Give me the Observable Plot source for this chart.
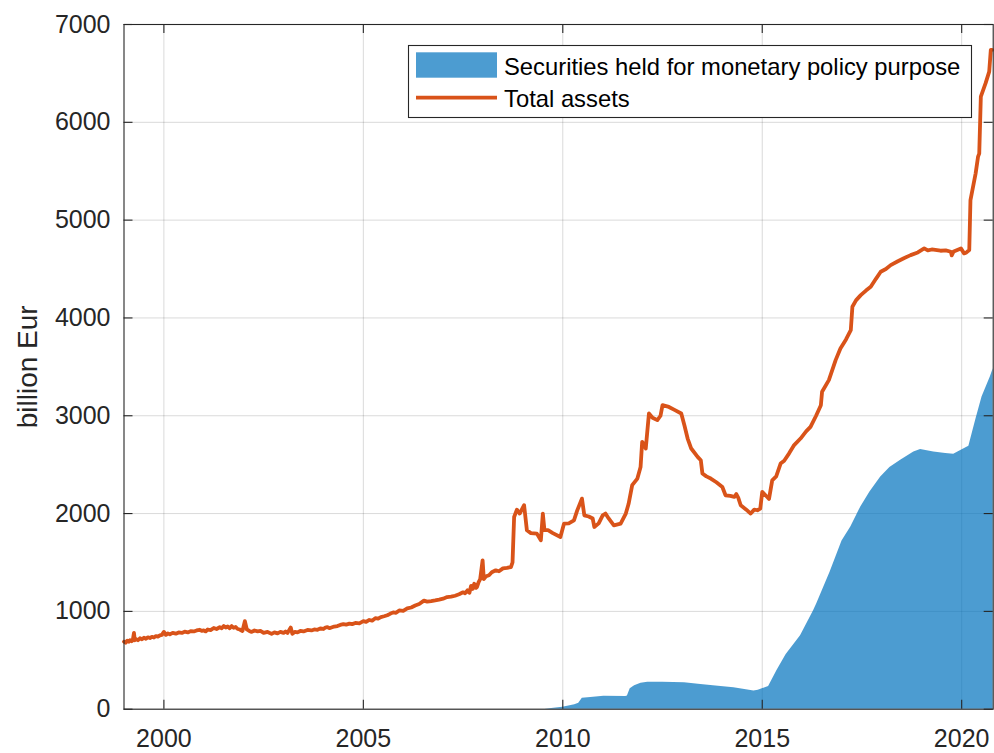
<!DOCTYPE html>
<html>
<head>
<meta charset="utf-8">
<script src="https://cdn.jsdelivr.net/npm/d3@7"></script>
<script src="https://cdn.jsdelivr.net/npm/@observablehq/plot@0.6"></script>
<style>
  html, body { margin: 0; padding: 0; background: #fff; }
  #chart svg { display: block; }
</style>
</head>
<body>
<div id="chart"></div>
<script>
// ---- Data ----
const totalDates = [
  1999.00,1999.04,1999.08,1999.12,1999.15,1999.19,1999.22,1999.25,1999.27,1999.31,1999.35,1999.40,1999.45,
  1999.50,1999.55,1999.60,1999.65,1999.70,1999.75,1999.80,1999.85,1999.90,1999.95,
  2000.00,2000.05,2000.10,2000.15,2000.22,2000.30,2000.37,2000.45,2000.52,2000.60,2000.67,2000.75,2000.82,
  2000.90,2000.95,2001.00,2001.05,2001.10,2001.17,2001.25,2001.32,2001.40,2001.45,2001.50,2001.55,
  2001.60,2001.65,2001.70,2001.75,2001.80,2001.85,2001.90,2001.97,2002.03,2002.08,2002.14,2002.20,2002.27,
  2002.35,2002.42,2002.50,2002.60,2002.70,2002.77,2002.85,2002.92,2003.00,
  2003.05,2003.10,2003.18,2003.22,2003.28,2003.35,2003.42,2003.50,2003.60,2003.70,2003.77,2003.85,2003.92,
  2004.00,2004.05,2004.10,2004.15,2004.20,2004.27,2004.35,2004.42,2004.50,2004.57,2004.65,2004.72,
  2004.80,2004.90,2005.00,2005.07,2005.15,2005.22,2005.30,2005.37,2005.44,2005.52,2005.60,2005.67,2005.75,
  2005.82,2005.90,2006.00,2006.10,2006.20,2006.30,2006.40,2006.52,2006.60,2006.70,2006.80,2006.90,2007.00,
  2007.10,2007.20,2007.30,2007.40,2007.50,2007.55,2007.61,2007.66,2007.70,2007.74,2007.78,2007.82,2007.85,
  2007.89,2007.93,2007.99,2008.02,2008.08,2008.15,2008.22,2008.32,2008.40,
  2008.50,2008.60,2008.70,2008.74,2008.78,2008.85,2008.92,2009.03,2009.10,2009.20,2009.35,2009.45,2009.50,2009.54,
  2009.63,2009.75,2009.94,2010.03,2010.15,2010.28,2010.36,2010.48,2010.54,2010.65,2010.75,2010.79,2010.90,
  2011.00,2011.07,2011.15,2011.28,2011.45,2011.58,2011.65,2011.74,2011.87,2011.95,2011.99,2012.04,2012.08,
  2012.16,2012.25,2012.37,2012.45,2012.50,2012.66,2012.80,2012.97,2013.05,2013.13,2013.22,2013.38,2013.46,
  2013.50,2013.60,2013.71,2013.85,2014.00,2014.08,2014.20,2014.30,2014.35,2014.40,2014.46,2014.60,2014.71,
  2014.80,2014.88,2014.95,2015.00,2015.10,2015.17,2015.25,2015.35,2015.46,2015.55,2015.67,2015.80,2015.96,
  2016.10,2016.21,2016.35,2016.47,2016.50,2016.67,2016.84,2016.96,2017.10,2017.22,2017.26,2017.35,2017.47,
  2017.60,2017.72,2017.85,2017.97,2018.10,2018.22,2018.40,2018.55,2018.72,2018.90,2019.06,2019.15,2019.25,
  2019.47,2019.60,2019.73,2019.75,2019.80,2019.98,2020.06,2020.12,2020.19,2020.22,2020.35,2020.41,2020.44,
  2020.48,2020.60,2020.69,2020.73,2020.76
];
const totalValues = [
  690,680,700,690,705,695,705,780,705,715,705,725,715,
  730,720,735,728,740,733,748,742,755,760,
  790,760,775,765,780,772,785,780,792,785,798,795,805,
  812,800,805,795,815,808,830,820,838,828,850,835,
  845,828,850,832,840,820,815,800,900,815,800,790,805,
  795,800,780,790,770,785,775,790,780,
  795,780,835,770,790,785,800,795,810,805,815,812,825,
  820,835,840,828,835,845,850,862,870,865,875,870,
  882,878,900,892,912,905,930,925,942,950,960,975,990,
  985,1010,1005,1030,1040,1060,1075,1110,1100,1105,1112,1120,1130,
  1146,1150,1160,1175,1195,1185,1215,1190,1260,1230,1283,1240,1250,
  1300,1330,1522,1330,1360,1370,1400,1420,1410,
  1440,1445,1453,1500,1965,2040,2000,2085,1829,1800,1795,1727,2000,1830,
  1830,1800,1760,1897,1900,1930,2030,2153,1982,1970,1949,1863,1900,
  1982,2000,1950,1880,1897,2000,2100,2290,2358,2477,2733,2700,2665,
  3023,2980,2955,3000,3108,3090,3060,3023,2900,2767,2665,2580,2545,
  2410,2380,2358,2320,2272,2187,2180,2170,2200,2160,2085,2040,2000,
  2040,2034,2050,2221,2180,2150,2340,2380,2511,2540,2613,2700,2767,
  2840,2886,3000,3108,3245,3364,3569,3688,3780,3876,4114,4180,4233,
  4280,4318,4400,4472,4500,4540,4580,4610,4642,4670,4711,4690,4700,
  4687,4690,4677,4640,4680,4711,4660,4670,4695,5205,5478,5649,5680,
  6262,6400,6518,6740,6740
];
const secDates = [
  2009.55,2010.00,2010.30,2010.40,2010.49,2010.70,2011.03,2011.58,2011.62,2011.69,2011.80,2011.96,2012.13,
  2012.50,2013.05,2013.46,2013.90,2014.29,2014.60,2014.79,2014.90,2015.00,2015.16,2015.37,2015.60,2015.96,
  2016.29,2016.37,2016.70,2017.00,2017.22,2017.47,2017.70,2017.97,2018.20,2018.47,2018.80,2018.97,2019.30,
  2019.60,2019.80,2020.00,2020.18,2020.35,2020.51,2020.72,2020.79
];
const secValues = [
  0,21,45,60,113,120,133,130,135,209,240,266,276,
  275,270,252,235,219,200,187,195,209,232,396,560,750,
  1010,1080,1400,1720,1863,2068,2220,2375,2470,2545,2630,2655,2630,
  2615,2607,2650,2689,2955,3193,3398,3480
];
const xTicks = [2000, 2005, 2010, 2015, 2020];
const yTicks = [0, 1000, 2000, 3000, 4000, 5000, 6000, 7000];
const xDomain = [1999.0, 2020.79];
const yDomain = [0, 7000];
const seriesNames = ["Securities held for monetary policy purpose", "Total assets"];
const yLabel = "billion Eur";

// ---- Build tables ----
const total = totalDates.map((d, i) => ({ date: d, value: totalValues[i] }));
const securities = secDates.map((d, i) => ({ date: d, value: secValues[i] }));

// ---- Style ----
const W = 994, H = 753;
const mL = 123.5, mR = 1.3, mT = 24, mB = 44.3;
const innerW = W - mL - mR, innerH = H - mT - mB;
const tickLen = 9;
const axisColor = "#262626";
const blue = "#0072BD", orange = "#D95319";
const font = "'Liberation Sans', Arial, Helvetica, sans-serif";
const tickFont = 25, labelFont = 28, legendFont = 23.8;

const chart = Plot.plot({
  width: W, height: H,
  marginLeft: mL, marginRight: mR, marginTop: mT, marginBottom: mB,
  style: { fontFamily: font, background: "#fff", color: axisColor, overflow: "visible" },
  x: { domain: xDomain, ticks: xTicks },
  y: { domain: yDomain, ticks: yTicks },
  marks: [
    Plot.gridX(xTicks, { stroke: "#000", strokeOpacity: 0.15, strokeWidth: 1 }),
    Plot.gridY(yTicks, { stroke: "#000", strokeOpacity: 0.15, strokeWidth: 1 }),
    Plot.areaY(securities, { x: "date", y: "value", fill: blue, fillOpacity: 0.7 }),
    Plot.line(total, { x: "date", y: "value", stroke: orange, strokeWidth: 3.8, strokeLinejoin: "round", strokeLinecap: "round" }),
    Plot.frame({ stroke: axisColor, strokeWidth: 1.1 }),
    // inward ticks on all four sides
    Plot.tickX(xTicks, { x: d => d, stroke: axisColor, strokeWidth: 1.1, insetTop: innerH - tickLen }),
    Plot.tickX(xTicks, { x: d => d, stroke: axisColor, strokeWidth: 1.1, insetBottom: innerH - tickLen }),
    Plot.tickY(yTicks, { y: d => d, stroke: axisColor, strokeWidth: 1.1, insetRight: innerW - tickLen }),
    Plot.tickY(yTicks, { y: d => d, stroke: axisColor, strokeWidth: 1.1, insetLeft: innerW - tickLen }),
    // tick labels
    Plot.axisX(xTicks, { anchor: "bottom", tickSize: 0, tickPadding: 20, tickFormat: "d", fontSize: tickFont, label: null, fill: axisColor }),
    Plot.axisY(yTicks, { anchor: "left", tickSize: 0, tickPadding: 13.5, tickFormat: "d", fontSize: tickFont, label: null, fill: axisColor }),
    // y label
    Plot.text([yLabel], { frameAnchor: "left", dx: -87.5, rotate: -90, textAnchor: "middle", lineAnchor: "bottom", fontSize: labelFont, fill: axisColor })
  ]
});

document.getElementById("chart").appendChild(chart);

// ---- Legend (inside the plot, top right) ----
const svg = d3.select(chart);
const lg = svg.append("g").attr("font-family", font).attr("font-size", legendFont).attr("text-anchor", "start");
lg.append("rect").attr("x", 408.5).attr("y", 45.5).attr("width", 563).attr("height", 72)
  .attr("fill", "#fff").attr("stroke", axisColor).attr("stroke-width", 1.1);
lg.append("rect").attr("x", 416).attr("y", 52.3).attr("width", 81).attr("height", 25.4)
  .attr("fill", blue).attr("fill-opacity", 0.7);
lg.append("line").attr("x1", 416).attr("x2", 497).attr("y1", 97.7).attr("y2", 97.7)
  .attr("stroke", orange).attr("stroke-width", 3.8);
lg.append("text").attr("x", 504).attr("y", 66.5).attr("dy", "0.35em").attr("fill", "#000").text(seriesNames[0]);
lg.append("text").attr("x", 504).attr("y", 98.3).attr("dy", "0.35em").attr("fill", "#000").text(seriesNames[1]);
</script>
</body>
</html>
